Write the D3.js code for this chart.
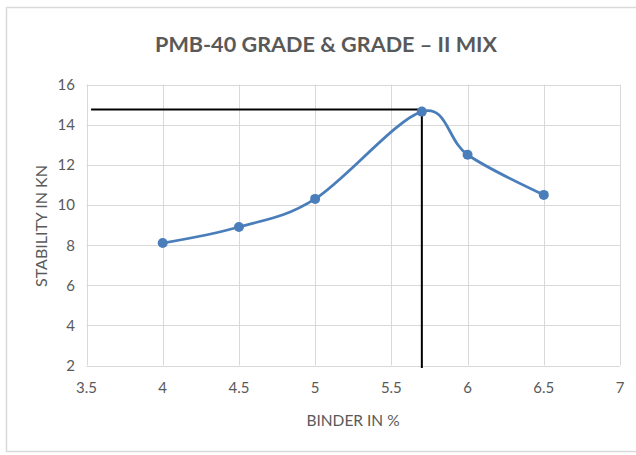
<!DOCTYPE html>
<html><head><meta charset="utf-8">
<script src="https://cdn.jsdelivr.net/npm/d3@7"></script>
<style>body{margin:0;background:#fff;}svg{display:block;font-family:Lato,"Open Sans",sans-serif;}</style>
</head><body>
<script>
const binder = [4, 4.5, 5, 5.7, 6, 6.5];
const stability = [8.1, 8.9, 10.3, 14.65, 12.5, 10.5];
const xTicks = [3.5, 4, 4.5, 5, 5.5, 6, 6.5, 7];
const yTicks = [2, 4, 6, 8, 10, 12, 14, 16];
const optBinder = 5.7, optStability = 14.75, refStartX = 3.53;

const W = 636, H = 455;
const svg = d3.select("body").append("svg").attr("width", W).attr("height", H);
svg.append("rect").attr("x", 6.5).attr("y", 7.5).attr("width", 640).attr("height", 444)
  .attr("fill", "#fff").attr("stroke", "#d9d9d9").attr("stroke-width", 1.5);

const x = d3.scaleLinear().domain([3.5, 7]).range([86.5, 620]);
const y = d3.scaleLinear().domain([2, 16]).range([365.5, 84.5]);

// grid
svg.append("g").selectAll("line").data(xTicks).join("line")
  .attr("x1", d => Math.round(x(d)) + 0.5).attr("x2", d => Math.round(x(d)) + 0.5)
  .attr("y1", y(16)).attr("y2", y(2)).attr("stroke", "#d9d9d9").attr("stroke-width", 1);
svg.append("g").selectAll("line").data(yTicks).join("line")
  .attr("y1", d => Math.round(y(d)) + 0.5).attr("y2", d => Math.round(y(d)) + 0.5)
  .attr("x1", x(3.5)).attr("x2", x(7)).attr("stroke", "#d9d9d9").attr("stroke-width", 1);

// tick labels
svg.append("g").selectAll("text").data(yTicks).join("text")
  .attr("x", 75).attr("y", d => y(d) + 5.5).attr("text-anchor", "end")
  .attr("font-size", 15).attr("fill", "#595959").text(d => d);
svg.append("g").selectAll("text").data(xTicks).join("text")
  .attr("x", d => x(d)).attr("y", 393).attr("text-anchor", "middle")
  .attr("font-size", 15).attr("fill", "#595959").text(d => d);

// titles
svg.append("text").attr("x", 326).attr("y", 52).attr("text-anchor", "middle")
  .attr("font-size", 21).attr("font-weight", "bold").attr("fill", "#595959")
  .attr("textLength", 342).attr("lengthAdjust", "spacingAndGlyphs")
  .text("PMB-40 GRADE & GRADE – II MIX");
svg.append("text").attr("x", 353).attr("y", 426).attr("text-anchor", "middle")
  .attr("font-size", 15.5).attr("fill", "#595959").text("BINDER IN %");
svg.append("text").attr("transform", "translate(47,226) rotate(-90)").attr("text-anchor", "middle")
  .attr("font-size", 16).attr("fill", "#595959").text("STABILITY IN KN");

// reference lines
svg.append("line").attr("x1", x(refStartX)).attr("x2", x(optBinder))
  .attr("y1", y(optStability)).attr("y2", y(optStability)).attr("stroke", "#000").attr("stroke-width", 2);
svg.append("line").attr("x1", x(optBinder)).attr("x2", x(optBinder))
  .attr("y1", y(optStability)).attr("y2", 368).attr("stroke", "#000").attr("stroke-width", 2);

// series
const pts = binder.map((b, i) => [b, stability[i]]);
const line = d3.line().x(d => x(d[0])).y(d => y(d[1])).curve(d3.curveCatmullRom.alpha(0));
svg.append("path").datum(pts).attr("d", line).attr("fill", "none")
  .attr("stroke", "#4a7ebb").attr("stroke-width", 2.75);
svg.append("g").selectAll("circle").data(pts).join("circle")
  .attr("cx", d => x(d[0])).attr("cy", d => y(d[1])).attr("r", 5)
  .attr("fill", "#4a7ebb");
</script>
</body></html>
